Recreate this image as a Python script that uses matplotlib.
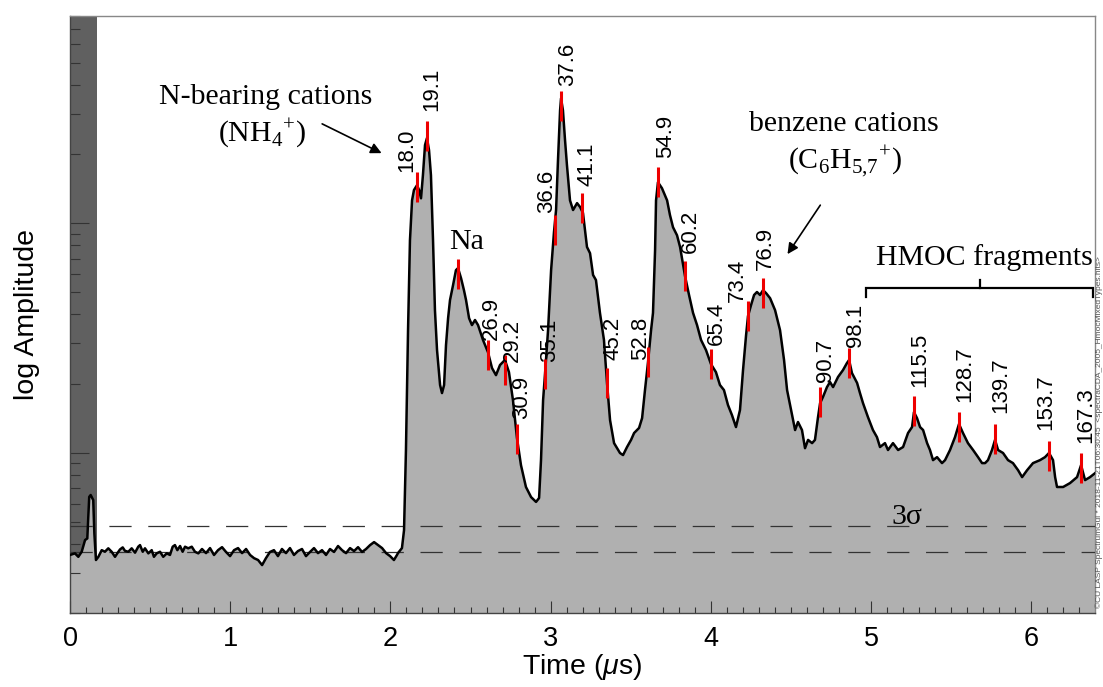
import numpy as np
import matplotlib
matplotlib.use("Agg")
import matplotlib.pyplot as plt
from matplotlib.ticker import LogLocator, NullFormatter, MultipleLocator, FixedLocator

plt.rcParams['font.family'] = ['Liberation Sans', 'DejaVu Sans']
plt.rcParams['mathtext.fontset'] = 'custom'
plt.rcParams['mathtext.rm'] = 'Liberation Sans'
plt.rcParams['mathtext.it'] = 'Liberation Sans:italic'
plt.rcParams['lines.scale_dashes'] = False

# ---- impact-ionisation time-of-flight spectrum (time in microseconds, log10 amplitude) ----
time_us = [
    0.000, 0.031, 0.052, 0.073, 0.094, 0.108, 0.120, 0.129, 0.145, 0.152, 0.162, 0.177,
    0.198, 0.218, 0.239, 0.260, 0.281, 0.295, 0.312, 0.329, 0.343, 0.364, 0.385, 0.406,
    0.426, 0.437, 0.454, 0.468, 0.489, 0.510, 0.524, 0.541, 0.562, 0.582, 0.604, 0.624,
    0.641, 0.655, 0.670, 0.687, 0.703, 0.718, 0.738, 0.760, 0.780, 0.801,
    0.824, 0.849, 0.874, 0.899, 0.924, 0.949, 0.974, 0.999, 1.024, 1.049, 1.074, 1.099,
    1.124, 1.149, 1.174, 1.199, 1.223, 1.248, 1.273, 1.298, 1.323, 1.348, 1.373, 1.398,
    1.423, 1.448, 1.473, 1.498, 1.523, 1.548, 1.573, 1.598, 1.623, 1.648, 1.673, 1.698,
    1.723, 1.748, 1.773, 1.798, 1.823, 1.848, 1.873, 1.898, 1.923, 1.948, 1.973, 1.998,
    2.022, 2.041,
    2.047, 2.072, 2.085, 2.097, 2.110, 2.122, 2.135, 2.147, 2.166, 2.179, 2.191, 2.203,
    2.216, 2.228, 2.241, 2.253, 2.266, 2.278, 2.291, 2.310, 2.322, 2.335, 2.347, 2.360,
    2.372, 2.391, 2.409, 2.422, 2.441, 2.459, 2.472, 2.491, 2.509, 2.528, 2.547, 2.578,
    2.609, 2.634, 2.659, 2.684, 2.715, 2.740, 2.765, 2.790, 2.815, 2.846, 2.878, 2.909,
    2.928, 2.940, 2.953, 2.965, 2.984, 3.003, 3.021, 3.034, 3.046, 3.059, 3.065, 3.077,
    3.090, 3.102, 3.121, 3.140, 3.165, 3.184, 3.202, 3.227, 3.246, 3.265, 3.283, 3.308,
    3.333, 3.352, 3.371, 3.396, 3.433, 3.452, 3.477, 3.502, 3.521, 3.552, 3.571, 3.589,
    3.608, 3.627, 3.639, 3.652, 3.658, 3.670, 3.695, 3.727, 3.745, 3.764, 3.789, 3.808,
    3.839, 3.864, 3.889, 3.914, 3.939, 3.970, 4.001, 4.032, 4.057, 4.082, 4.107, 4.132,
    4.157, 4.182, 4.201, 4.220, 4.232, 4.251, 4.270, 4.288, 4.307, 4.326, 4.345, 4.370,
    4.401, 4.432, 4.457, 4.476, 4.501, 4.526, 4.544, 4.569, 4.588, 4.607, 4.632, 4.650,
    4.669, 4.682, 4.700, 4.725, 4.744, 4.763, 4.794, 4.825, 4.850, 4.863, 4.881, 4.913,
    4.931, 4.950, 4.981, 5.012, 5.037, 5.056, 5.087, 5.106, 5.137, 5.169, 5.200, 5.231,
    5.256, 5.268, 5.287, 5.306, 5.325, 5.350, 5.368, 5.387, 5.412, 5.443, 5.462, 5.493,
    5.524, 5.549, 5.574, 5.605, 5.637, 5.668, 5.693, 5.712, 5.730, 5.755, 5.774, 5.793,
    5.824, 5.855, 5.886, 5.918, 5.943, 5.974, 6.011, 6.055, 6.086, 6.111, 6.136, 6.149,
    6.161, 6.199, 6.242, 6.286, 6.311, 6.336, 6.367, 6.398,
]
log_amplitude = [
    -0.445, -0.438, -0.453, -0.431, -0.380, -0.373, -0.192, -0.184, -0.206, -0.351, -0.467, -0.453,
    -0.424, -0.431, -0.416, -0.431, -0.453, -0.438, -0.421, -0.412, -0.427, -0.431, -0.416, -0.435,
    -0.409, -0.402, -0.431, -0.416, -0.438, -0.424, -0.453, -0.438, -0.431, -0.453, -0.438, -0.445,
    -0.409, -0.402, -0.424, -0.406, -0.431, -0.409, -0.416, -0.409, -0.431, -0.438,
    -0.419, -0.437, -0.415, -0.445, -0.424, -0.411, -0.432, -0.450, -0.424, -0.415, -0.437, -0.419,
    -0.445, -0.459, -0.467, -0.489, -0.459, -0.432, -0.424, -0.450, -0.419, -0.437, -0.415, -0.445,
    -0.428, -0.419, -0.450, -0.432, -0.415, -0.437, -0.424, -0.445, -0.419, -0.432, -0.406, -0.424,
    -0.437, -0.415, -0.428, -0.411, -0.432, -0.419, -0.402, -0.389, -0.402, -0.415, -0.437, -0.450,
    -0.467, -0.445,
    -0.437, -0.415, -0.337, 0.012, 0.534, 0.925, 1.099, 1.144, 1.165, 1.144, 1.108, 1.209,
    1.340, 1.370, 1.318, 1.209, 0.925, 0.621, 0.447, 0.295, 0.260, 0.295, 0.469, 0.586,
    0.665, 0.730, 0.795, 0.804, 0.760, 0.708, 0.665, 0.586, 0.556, 0.578, 0.556, 0.491,
    0.438, 0.369, 0.338, 0.382, 0.404, 0.351, 0.229, 0.064, -0.054, -0.149, -0.193, -0.214,
    -0.197, -0.032, 0.229, 0.343, 0.534, 0.795, 0.961, 1.057, 1.274, 1.491, 1.543, 1.491,
    1.361, 1.252, 1.099, 1.057, 1.087, 1.070, 1.044, 0.896, 0.869, 0.774, 0.752, 0.609,
    0.491, 0.304, 0.142, 0.042, -0.001, -0.010, 0.025, 0.056, 0.086, 0.108, 0.151, 0.273,
    0.395, 0.534, 0.609, 0.882, 1.099, 1.178, 1.152, 1.099, 1.035, 0.982, 0.947, 0.896,
    0.769, 0.687, 0.609, 0.556, 0.491, 0.447, 0.386, 0.351, 0.295, 0.273, 0.208, 0.164,
    0.112, 0.186, 0.360, 0.512, 0.595, 0.643, 0.687, 0.700, 0.687, 0.708, 0.695, 0.673,
    0.621, 0.534, 0.404, 0.273, 0.186, 0.099, 0.134, 0.099, 0.020, 0.056, 0.042, 0.056,
    0.155, 0.216, 0.243, 0.286, 0.308, 0.286, 0.330, 0.360, 0.391, 0.404, 0.347, 0.304,
    0.260, 0.216, 0.155, 0.099, 0.068, 0.025, 0.042, 0.012, 0.042, 0.012, 0.025, 0.086,
    0.112, 0.177, 0.151, 0.112, 0.099, 0.042, 0.012, -0.032, -0.019, -0.045, -0.032, 0.012,
    0.068, 0.125, 0.086, 0.042, 0.012, -0.019, -0.045, -0.045, -0.032, 0.012, 0.056, 0.012,
    -0.001, -0.032, -0.045, -0.076, -0.106, -0.076, -0.045, -0.032, -0.019, -0.001, -0.032, -0.106,
    -0.149, -0.149, -0.132, -0.106, -0.054, -0.119, -0.106, -0.089,
]

# noise statistics of the pre-trigger baseline (log10 amplitude)
baseline_mean_log = -0.434
three_sigma_log = -0.321

# identified mass lines: label (amu), peak time (us), log10 amplitude at the marker
mass_labels = ["18.0", "19.1", "26.9", "29.2", "30.9", "35.1", "36.6", "37.6", "41.1",
               "45.2", "52.8", "54.9", "60.2", "65.4", "73.4", "76.9", "90.7", "98.1",
               "115.5", "128.7", "139.7", "153.7", "167.3"]
mass_time_us = [2.166, 2.227, 2.609, 2.715, 2.790, 2.965, 3.027, 3.065, 3.196,
                3.352, 3.608, 3.670, 3.839, 4.001, 4.232, 4.326, 4.682, 4.863,
                5.268, 5.549, 5.774, 6.111, 6.311]
mass_log_amp = [1.159, 1.379, 0.425, 0.360, 0.062, 0.343, 0.970, 1.512, 1.067,
                0.303, 0.397, 1.178, 0.769, 0.386, 0.595, 0.697, 0.221, 0.393,
                0.182, 0.112, 0.060, -0.014, -0.067]
na_time_us = 2.420
na_log_amp = 0.780

# label offsets from each marker, in pixels (x: text centre, y: text bottom)
label_offsets = [(-10, 15), (5, 25), (3, 15), (7, 8), (5, 20), (5, 12), (-8, 17), (7, 20), (5, 22),
                 (6, 23), (-7, 2), (8, 24), (5, 23), (5, 19), (-11, 14), (2, 23), (5, 20), (6, 16),
                 (6, 24), (6, 25), (6, 26), (-3, 26), (5, 25)]

t = np.array(time_us)
amp = 10.0 ** np.array(log_amplitude)

fig = plt.figure(figsize=(11.03, 6.87), dpi=100)
ax = fig.add_axes([70 / 1103, 1 - 613.3 / 687, 1025 / 1103, 597.6 / 687])

ax.set_yscale('log')
ax.set_xlim(0, 6.398)
ax.set_ylim(0.2, 80)

# detector dead-time band
ax.axvspan(0, 0.17, color='#606060', zorder=0, lw=0)

ax.fill_between(t, amp, 1e-3, color='#b0b0b0', lw=0, zorder=1)
ax.plot(t, amp, color='black', lw=1.8, zorder=4, solid_joinstyle='round')

for lvl in (baseline_mean_log, three_sigma_log):
    ax.axhline(10.0 ** lvl, color='#333333', lw=0.9, dashes=(16, 12), zorder=3)

# red peak markers with rotated mass labels
for lab, tm, la, (dx, dy) in zip(mass_labels, mass_time_us, mass_log_amp, label_offsets):
    a = 10.0 ** la
    ax.plot([tm], [a], marker='|', markersize=21, markeredgewidth=2.2,
            color='#ee0000', zorder=5)
    ax.annotate(lab, xy=(tm, a), xytext=(dx, dy), textcoords='offset pixels',
                rotation=90, ha='center', va='bottom', fontsize=16, zorder=6)

ax.plot([na_time_us], [10.0 ** na_log_amp], marker='|', markersize=21,
        markeredgewidth=2.2, color='#ee0000', zorder=5)

serif = ['Liberation Serif', 'DejaVu Serif']
fs_serif = 21.5
ax.annotate('Na', xy=(na_time_us, 10.0 ** na_log_amp), xytext=(9, 32),
            textcoords='offset pixels', ha='center', va='center',
            fontsize=fs_serif, family=serif)

# annotations
ax.text(0.191, 0.864, 'N-bearing cations', transform=ax.transAxes,
        ha='center', va='center', fontsize=fs_serif, family=serif)
ax.text(0.187, 0.802, r'(NH$_\mathregular{4}{}^\mathregular{+}$)', transform=ax.transAxes,
        ha='center', va='center', fontsize=fs_serif, family=serif)
ax.annotate('', xy=(0.304, 0.770), xytext=(0.246, 0.819),
            xycoords='axes fraction', textcoords='axes fraction',
            arrowprops=dict(arrowstyle='-|>', color='black', lw=1.2,
                            mutation_scale=16, shrinkA=0, shrinkB=0))

ax.text(0.755, 0.819, 'benzene cations', transform=ax.transAxes,
        ha='center', va='center', fontsize=fs_serif, family=serif)
ax.text(0.756, 0.755, r'(C$_\mathregular{6}$H$_\mathregular{5{,}7}{}^\mathregular{+}$)',
        transform=ax.transAxes, ha='center', va='center', fontsize=fs_serif, family=serif)
ax.annotate('', xy=(0.700, 0.601), xytext=(0.732, 0.683),
            xycoords='axes fraction', textcoords='axes fraction',
            arrowprops=dict(arrowstyle='-|>', color='black', lw=1.2,
                            mutation_scale=16, shrinkA=0, shrinkB=0))

ax.text(0.892, 0.595, 'HMOC fragments', transform=ax.transAxes,
        ha='center', va='center', fontsize=fs_serif, family=serif)
bx = [0.777, 0.777, 0.998, 0.998]
by = [0.530, 0.544, 0.544, 0.530]
ax.plot(bx, by, color='black', lw=1.6, transform=ax.transAxes, clip_on=False,
        solid_joinstyle='miter')
ax.plot([0.888, 0.888], [0.544, 0.558], color='black', lw=1.6,
        transform=ax.transAxes, clip_on=False)

ax.text(0.816, 0.161, '3σ', transform=ax.transAxes,
        ha='center', va='center', fontsize=fs_serif, family=serif)

# axes styling
ax.xaxis.set_major_locator(MultipleLocator(1))
ax.xaxis.set_minor_locator(MultipleLocator(0.1))
ax.yaxis.set_major_locator(FixedLocator([1, 10]))
ax.yaxis.set_minor_locator(LogLocator(base=10, subs=np.arange(2, 10)))
ax.yaxis.set_major_formatter(NullFormatter())
ax.yaxis.set_minor_formatter(NullFormatter())

ax.tick_params(axis='x', which='major', direction='in', length=8.5, width=0.8,
               color='#333333', labelsize=19.5, pad=9, top=False)
ax.tick_params(axis='x', which='minor', direction='in', length=4.3, width=0.8,
               color='#333333', top=False)
ax.tick_params(axis='y', which='major', direction='in', length=14, width=0.8,
               color='#333333', right=False)
ax.tick_params(axis='y', which='minor', direction='in', length=7, width=0.8,
               color='#333333', right=False)

for side in ('left', 'bottom'):
    ax.spines[side].set_color('#444444')
    ax.spines[side].set_linewidth(1.0)
for side in ('top', 'right'):
    ax.spines[side].set_color('#888888')
    ax.spines[side].set_linewidth(1.0)

ax.set_xlabel(r'Time ($\mu$s)', fontsize=20.5, labelpad=0)
ax.set_ylabel('log Amplitude', fontsize=20.5)
ax.yaxis.set_label_coords(-0.029, 0.5)

fig.text(0.9965, 0.115,
         '©CU LASP SpectrumGui * 2018-11-21T06:30:45  <spectraCDA_2005_HmocMixedTypes.hits>',
         rotation=90, ha='center', va='bottom', fontsize=6, color='#555555')

fig.savefig('out.png', dpi=100)
